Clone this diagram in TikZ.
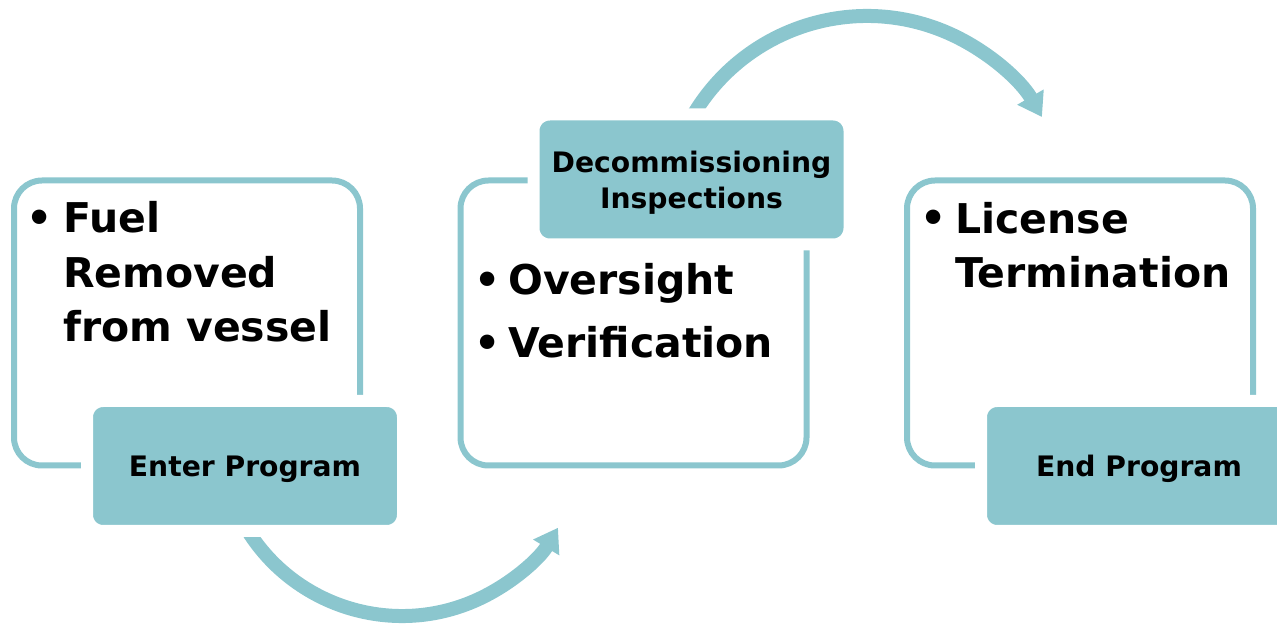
\documentclass[tikz,border=0pt]{standalone}
\usepackage{fontspec}
\setmainfont{DejaVu Sans}
\usetikzlibrary{arrows.meta}
\definecolor{xteal}{RGB}{139,198,206}
\begin{document}
\begin{tikzpicture}[x=1pt,y=1pt]
\tikzset{frame/.style={draw=xteal,line width=6pt,rounded corners=28pt,minimum width=346pt,minimum height=285pt,inner sep=0pt}}
\tikzset{tab/.style={fill=xteal,draw=white,line width=12pt,rounded corners=16pt,minimum width=316pt,minimum height=130pt,inner sep=0pt,text depth=0pt,font=\fontsize{28.2}{36}\selectfont\bfseries,align=center}}
\tikzset{item/.style={font=\fontsize{41}{54.5}\selectfont\bfseries,align=left,inner sep=0pt,anchor=base west}}
\tikzset{flow/.style={draw=xteal,line width=14pt,-{Triangle[length=23pt,width=29pt]}}}
\useasboundingbox (0,0) rectangle (1277,624);
\clip (0,0) rectangle (1277,624);
% outlined boxes
\node[frame] (fuelbox) at (187,301) {};
\node[frame] (inspbox) at (633.5,301) {};
\node[frame] (licbox) at (1080,301) {};
% curved arrows
\coordinate (lowc) at (402,190);
\coordinate (highc) at (867,406);
\draw[flow] (lowc) ++(205:182) arc[start angle=205,end angle=329,radius=182];
\draw[flow] (highc) ++(155:202) arc[start angle=155,end angle=30,radius=202];
% filled tabs
\node[tab] (enter) at (245,158) {Enter Program};
\node[tab] (insp) at (691.5,444.5) {Decommissioning\\Inspections};
\node[tab] (endp) at (1139,158) {End Program};
% bullet texts
\node[item] (fuelbul) at (26,391) {•};
\node[item] (fuel) at (63,282) {Fuel\\Removed\\from vessel};
\node[item] (oversbul) at (474,329) {•};
\node[item] (overs) at (508,329) {Oversight};
\node[item] (verifbul) at (474,266) {•};
\node[item] (verif) at (508,266) {Verification};
\node[item] (licbul) at (920,391) {•};
\node[item] (lic) at (955,336) {License\\Termination};
\end{tikzpicture}
\end{document}
